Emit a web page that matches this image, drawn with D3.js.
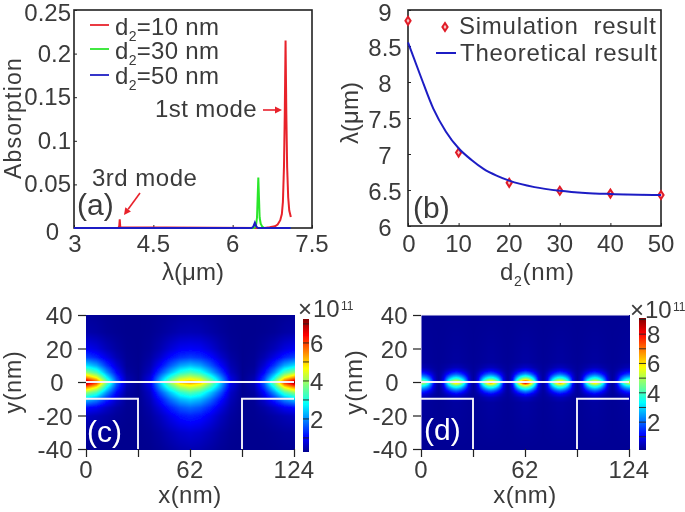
<!DOCTYPE html>
<html><head><meta charset="utf-8">
<script src="https://cdn.jsdelivr.net/npm/d3@7"></script>
<style>html,body{margin:0;padding:0;background:#fff}svg{display:block}
text{font-family:"Liberation Sans",Arial,sans-serif;fill:#3a3a3a}</style></head>
<body><svg id="c" width="685" height="512"></svg>
<script>
// Panel (a) spectra
const redX=[3,3.84,3.855,3.865,3.875,6.6,6.7,6.8,6.85,6.9,6.93,6.95,6.97,6.985,7.0,7.015,7.03,7.05,7.07,7.1];
const redY=[0,0,.002,.01,.001,0,.0008,.002,.004,.009,.016,.03,.07,.13,.215,.13,.07,.035,.02,.0125];
const greenX=[3,6.4,6.44,6.46,6.47,6.485,6.5,6.51,6.53,6.56,6.6,7.1];
const greenY=[0,0,.002,.012,.03,.058,.03,.012,.005,.0015,0,0];
const blueX=[3,6.36,6.39,6.42,6.45,6.48,7.1];
const blueY=[0,0,.0015,.006,.0015,0,0];
const aXTicks=[3,4.5,6,7.5];
const aYTicks=[0,.05,.1,.15,.2,.25];
// Panel (b)
const simD=[0,10,20,30,40,50];
const simL=[8.85,7.02,6.6,6.49,6.45,6.43];
const theoD=[0,2.5,5,7.5,10,12.5,15,17.5,20,25,30,35,40,50];
const theoL=[8.55,8.08,7.63,7.31,7.08,6.92,6.79,6.70,6.63,6.54,6.49,6.46,6.445,6.43];
const bXTicks=[0,10,20,30,40,50];
const bYTicks=[6,6.5,7,7.5,8,8.5,9];
// Panel (c) field samples (x 0..62, mirrored to 124), units of 1e11
const cCols=[0,6,12,18,24,31,38,44,50,56,62];
const cRows=[40,30,20,15,10,6,3,1,0,-1,-3,-6,-10,-15,-20,-30,-40];
const cField=[
[.34,.32,.28,.27,.26,.26,.27,.3,.33,.36,.38],
[.45,.4,.32,.28,.26,.26,.28,.34,.42,.5,.52],
[.95,.8,.55,.38,.28,.26,.33,.5,.75,.95,1.0],
[1.5,1.25,.85,.5,.3,.26,.4,.7,1.1,1.35,1.45],
[2.6,2.2,1.4,.75,.32,.27,.5,1.05,1.65,2.15,2.35],
[3.9,3.3,2.05,1.05,.38,.27,.62,1.5,2.3,3.0,3.3],
[5.4,4.6,2.8,1.4,.47,.28,.8,2.0,3.1,4.0,4.3],
[6.6,5.6,3.4,1.6,.52,.28,.88,2.3,3.7,4.7,4.95],
[7.2,6.1,3.7,1.7,.55,.28,.9,2.4,4.0,5.2,5.6],
[6.6,5.6,3.4,1.6,.52,.28,.88,2.3,3.7,4.7,4.95],
[5.4,4.6,2.8,1.4,.47,.28,.8,2.05,3.15,4.0,4.3],
[3.9,3.3,2.05,1.05,.38,.27,.65,1.6,2.4,3.1,3.4],
[2.4,2.0,1.3,.7,.32,.27,.55,1.15,1.8,2.3,2.5],
[1.1,.95,.65,.42,.29,.27,.45,.82,1.25,1.6,1.75],
[.6,.52,.42,.33,.28,.27,.38,.6,.9,1.15,1.25],
[.36,.34,.3,.27,.26,.26,.3,.4,.55,.68,.74],
[.3,.29,.27,.26,.26,.26,.27,.32,.4,.48,.52]];
// Panel (d) lobes
const dLobeX=[0,20.67,41.33,62,82.67,103.33,124];
const dLobePeak=[5.5,6.5,7,8.6,7,6.5,5.5];
const dOffX=[0,1.5,3,4.5,6,7.5,9,10.34];
const dOffY=[0,1,2,3.5,5,7,9,12,40];
const dProfile=[
[1,.92,.76,.58,.38,.17,.05,.01],
[.8,.75,.65,.5,.33,.15,.05,.01],
[.6,.57,.5,.4,.27,.12,.04,.01],
[.42,.4,.35,.28,.19,.09,.035,.01],
[.27,.25,.22,.17,.12,.065,.025,.01],
[.13,.12,.1,.08,.055,.03,.015,.008],
[.05,.047,.04,.03,.022,.015,.01,.005],
[.015,.015,.012,.01,.008,.005,.004,.002],
[0,0,0,0,0,0,0,0]];
const fieldXTicks=[0,31,62,93,124];
const fieldXLabels=["0","","62","","124"];
const fieldYTicks=[-40,-20,0,20,40];
const cBarTicks=[2,4,6];
const dBarTicks=[2,4,6,8];
const cBarMinor=[1,2,3,4,5,6,7];
const dBarMinor=[1,2,3,4,5,6,7,8,9];
const trenchX=[0,31,93,124];

const FS=24;
const svg=d3.select("#c");
const defs=svg.append("defs");
defs.append("filter").attr("id","soft").attr("x","-5%").attr("y","-5%").attr("width","110%").attr("height","110%")
  .append("feGaussianBlur").attr("stdDeviation",.4);
const root=svg.append("g").attr("filter","url(#soft)");

function frameAxes(g,x,y,xt,yt){
  const [x0,x1]=x.range(),[y0,y1]=y.range();
  g.append("rect").attr("x",x0).attr("y",y1).attr("width",x1-x0).attr("height",y0-y1)
   .attr("fill","none").attr("stroke","#222").attr("stroke-width",1.6);
  const ax=d3.axisBottom(x).tickValues(xt).tickSize(-3).tickPadding(0).tickFormat("");
  const ay=d3.axisLeft(y).tickValues(yt).tickSize(-3).tickFormat("");
  for(const [a,t] of [[ax,`translate(0,${y0})`],[ay,`translate(${x0},0)`]]){
    const s=g.append("g").attr("transform",t).call(a);
    s.select(".domain").remove();s.selectAll("line").attr("stroke","#222");
  }
}
function label(g,x,y,t,o={}){
  const e=g.append("text").attr("x",x).attr("y",y).attr("font-size",o.fs||FS).text(t)
   .attr("text-anchor",o.a||"start");
  if(o.rot)e.attr("transform",`rotate(-90 ${x} ${y})`);
  if(o.fill)e.style("fill",o.fill);
  if(o.ls)e.attr("letter-spacing",o.ls);
  return e;
}
function legendD(g,x,y,v){
  const e=g.append("text").attr("x",x).attr("y",y).attr("font-size",FS).attr("letter-spacing",.3);
  e.append("tspan").text("d");
  e.append("tspan").attr("font-size",14).attr("dy",6).text("2");
  e.append("tspan").attr("dy",-6).text(v);
}
function arrow(g,x1,y1,x2,y2){
  const a=Math.atan2(y2-y1,x2-x1),L=7,W=3.5;
  const bx=x2-L*Math.cos(a),by=y2-L*Math.sin(a);
  g.append("line").attr("x1",x1).attr("y1",y1).attr("x2",bx).attr("y2",by).attr("stroke","#e8222c").attr("stroke-width",1.6);
  g.append("path").attr("fill","#e8222c").attr("d",d3.line()([[x2,y2],[bx-W*Math.sin(a),by+W*Math.cos(a)],[bx+W*Math.sin(a),by-W*Math.cos(a)]])+"Z");
}

// ---------- (a)
{
  const g=root.append("g");
  const x=d3.scaleLinear([3,7.5],[74,312]),y=d3.scaleLinear([0,.25],[228,10]);
  const line=d3.line().x(d=>x(d[0])).y(d=>y(d[1]));
  const series=[[redX,redY,"#e8222c"],[greenX,greenY,"#2ce62c"],[blueX,blueY,"#1c1cc4"]];
  frameAxes(g,x,y,aXTicks,aYTicks);
  series.forEach(([X,Y,c])=>g.append("path").attr("d",line(d3.zip(X,Y))).attr("fill","none").attr("stroke",c).attr("stroke-width",2));
  aXTicks.forEach(t=>label(g,t==3?75:x(t),252,String(t),{a:"middle"}));
  aYTicks.forEach(t=>label(g,t==0?59:71,t==0?240:y(t)+(t==.25?11:8),String(t),{a:"end"}));
  label(g,21,118,"Absorption",{a:"middle",rot:1,ls:1.2,fs:23});
  label(g,193,280,"λ(μm)",{a:"middle"});
  [["=10 nm","#e8222c",25,35],["=30 nm","#2ce62c",49,59],["=50 nm","#1c1cc4",75,84]].forEach(([t,c,ly,by])=>{
    g.append("line").attr("x1",90).attr("x2",109).attr("y1",ly).attr("y2",ly).attr("stroke",c).attr("stroke-width",1.8);
    legendD(g,115,by,t);
  });
  label(g,155,117,"1st mode",{ls:.4});
  arrow(g,263,110,282,110);
  label(g,92,186,"3rd mode",{ls:.5});
  arrow(g,140,193,124,215);
  label(g,77,215,"(a)",{fs:30});
}
// ---------- (b)
{
  const g=root.append("g");
  const x=d3.scaleLinear([0,50],[408,661]),y=d3.scaleLinear([6,9],[226,10]);
  frameAxes(g,x,y,bXTicks,bYTicks);
  const dia=(gg,px,py)=>gg.append("path").attr("d",`M${px},${py-4}L${px+2.6},${py}L${px},${py+4}L${px-2.6},${py}Z`)
    .attr("fill","#f9c4c4").attr("stroke","#e01c28").attr("stroke-width",2);
  simD.forEach((d,i)=>dia(g,x(d),y(simL[i])));
  g.append("path").attr("d",d3.line().curve(d3.curveMonotoneX).x(d=>x(d[0])).y(d=>y(d[1]))(d3.zip(theoD,theoL)))
    .attr("fill","none").attr("stroke","#1c1cc4").attr("stroke-width",2);
  bXTicks.forEach(t=>label(g,x(t)+(t==0?1:0),252,String(t),{a:"middle"}));
  bYTicks.forEach(t=>label(g,385,y(t)+(t==9?11:10),String(t),{a:"middle"}));
  label(g,358,113,"λ(μm)",{a:"middle",rot:1});
  label(g,500,280,"d",{ls:.7}).call(e=>{
    e.append("tspan").attr("font-size",14).attr("dy",6).text("2");
    e.append("tspan").attr("dy",-6).text("(nm)");
  });
  dia(g,445,27);
  g.append("line").attr("x1",436).attr("x2",456).attr("y1",53).attr("y2",53).attr("stroke","#1c1cc4").attr("stroke-width",2);
  label(g,459,34,"Simulation  result",{ls:.75}).style("white-space","pre");
  label(g,460,61,"Theoretical result",{ls:.75});
  label(g,413,218,"(b)",{fs:30});
}
// ---------- heatmaps
const jet=d3.scaleLinear().domain([0,.11,.36,.5,.63,.88,1]).range(["#00008f","#0000ff","#00ffff","#7fff7f","#ffff00","#ff0000","#800000"]);
function bilerp(xs,ys,M,px,py){
  const i=Math.max(0,Math.min(xs.length-2,d3.bisectRight(xs,px)-1));
  const j=Math.max(0,Math.min(ys.length-2,d3.bisectRight(ys,py)-1));
  const tx=(px-xs[i])/(xs[i+1]-xs[i]),ty=(py-ys[j])/(ys[j+1]-ys[j]);
  return (1-ty)*((1-tx)*M[j][i]+tx*M[j][i+1])+ty*((1-tx)*M[j+1][i]+tx*M[j+1][i+1]);
}
const cAsc=cRows.slice().reverse(),cFieldAsc=cField.slice().reverse();
function cValue(fx,fy){return bilerp(cCols,cAsc,cFieldAsc,fx>62?124-fx:fx,fy);}
function dValue(fx,fy){
  let k=d3.leastIndex(dLobeX,(a,b)=>Math.abs(a-fx)-Math.abs(b-fx));
  return .15+dLobePeak[k]*bilerp(dOffX,dOffY,dProfile,Math.abs(fx-dLobeX[k]),Math.abs(fy));
}
function heat(o){
  const g=root.append("g");
  const x=d3.scaleLinear([0,124],[o.x0,o.x1]),y=d3.scaleLinear([-40,40],[449,315]);
  const W=o.x1-o.x0+1,H=135,cv=document.createElement("canvas");cv.width=W;cv.height=H;
  const ctx=cv.getContext("2d"),color=d3.scaleLinear().domain(o.dom).range([0,1]).clamp(true);
  for(let j=0;j<H;j++)for(let i=0;i<W;i++){
    const v=o.f(Math.max(0,Math.min(124,x.invert(o.x0+i))),y.invert(315+j));
    ctx.fillStyle=jet(color(v));ctx.fillRect(i,j,1,1);
  }
  g.append("image").attr("x",o.x0).attr("y",315).attr("width",W).attr("height",H).attr("href",cv.toDataURL());
  const wl=d3.line().x(d=>x(d[0])).y(d=>y(d[1]));
  const white=(pts,w)=>g.append("path").attr("d",wl(pts)).attr("fill","none").attr("stroke","#f4f2fa").attr("stroke-width",w);
  white([[0,0],[124,0]],1.9);
  white([[trenchX[0],-10],[trenchX[1],-10],[trenchX[1],-40]],1.9);
  white([[trenchX[3],-10],[trenchX[2],-10],[trenchX[2],-40]],1.9);
  if(o.edge)white([[0,-40],[0,40],[124,40]],1);
  const ax=g.append("g").attr("transform","translate(0,449)").call(d3.axisBottom(x).tickValues(fieldXTicks).tickSize(8).tickFormat(""));
  const ay=g.append("g").attr("transform",`translate(${o.x0},0)`).call(d3.axisLeft(y).tickValues(fieldYTicks).tickSize(8).tickFormat(""));
  [ax,ay].forEach(s=>{s.select(".domain").remove();s.selectAll("line").attr("stroke","#222").attr("stroke-width",1.2)});
  fieldXTicks.forEach((t,i)=>label(g,x(t),478,fieldXLabels[i],{a:"middle",ls:.3}));
  fieldYTicks.forEach(t=>label(g,t==0?o.x0-22:o.x0-13,y(t)+9,String(t),{a:"end",ls:.3}));
  label(g,o.ylx,382,"y(nm)",{a:"middle",rot:1,ls:.8,fs:o.ylf});
  label(g,(o.x0+o.x1)/2,503,"x(nm)",{a:"middle",ls:.4});
  label(g,o.x0+o.lx,o.ly,o.name,{fs:30,fill:"#fff"});
  const cb=d3.scaleLinear(o.dom,[o.bb,o.bt]);
  const n=o.bb-o.bt;
  const grad=defs.append("linearGradient").attr("id","g"+o.id).attr("x1",0).attr("x2",0).attr("y1",1).attr("y2",0);
  jet.domain().forEach(s=>grad.append("stop").attr("offset",s).attr("stop-color",jet(s)));
  g.append("rect").attr("x",o.bx).attr("y",o.bt).attr("width",o.bw).attr("height",n).attr("fill",`url(#g${o.id})`);
  o.minor.forEach(t=>g.append("line").attr("x1",o.bx).attr("x2",o.bx+o.bw).attr("y1",cb(t)).attr("y2",cb(t)).attr("stroke","#222").attr("stroke-width",.9));
  o.major.forEach(t=>label(g,o.bl,cb(t)+9,String(t)));
  label(g,o.tx,o.tb,"×");
  label(g,o.tx+15,o.tb,"10");
  label(g,o.tx+43,o.tb-7,"11",{fs:12});
}
heat({id:"c",x0:86,x1:294,f:cValue,dom:[.26,7.26],name:"(c)",lx:1,ly:442,ylx:21,ylf:23,edge:false,
  bx:303,bw:6,bt:319,bb:452,minor:cBarMinor,major:cBarTicks,bl:310,tx:298,tb:317});
heat({id:"d",x0:421,x1:629,f:dValue,dom:[.1,9.1],name:"(d)",lx:3,ly:440,ylx:362,ylf:24,edge:true,
  bx:639,bw:7,bt:318,bb:450,minor:dBarMinor,major:dBarTicks,bl:647,tx:630,tb:318});
</script></body></html>
